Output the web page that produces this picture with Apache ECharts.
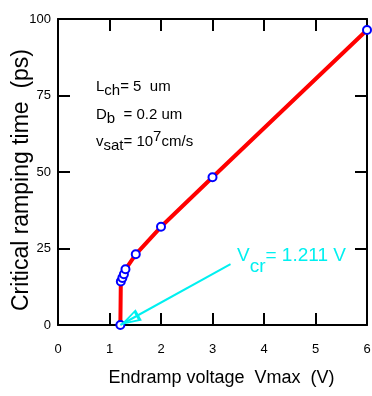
<!DOCTYPE html>
<html>
<head>
<meta charset="utf-8">
<script src="https://cdn.jsdelivr.net/npm/echarts@6/dist/echarts.min.js"></script>
<style>
  html, body { margin: 0; padding: 0; background: #fff; }
  #chart { width: 372px; height: 396px; }
</style>
</head>
<body>
<div id="chart"></div>
<script>
// endramp voltage (V) vs critical ramping time (ps)
const vmax = [1.211, 1.22, 1.25, 1.28, 1.31, 1.51, 2, 3, 6];
const rampTime = [0, 14.2, 15.4, 16.6, 18.2, 23.1, 32.1, 48.3, 96.4];
const xTicks = [0, 1, 2, 3, 4, 5, 6];
const yTicks = [0, 25, 50, 75, 100];
const vcr = 1.211;
const arrowFrom = [3.35, 19.9];

const FONT = '"Liberation Sans", Arial, sans-serif';

const chart = echarts.init(document.getElementById('chart'), null, { renderer: 'canvas' });

const axisLine = { onZero: false, lineStyle: { color: '#000', width: 2 } };
const tick = { inside: true, length: 12, lineStyle: { color: '#000', width: 2 } };

// open arrow head, tip sits in the middle of the symbol box so it lands on the point
const arrowHead = 'path://M0,0 L0,0.01 M0,20 L7,40 L-7,40 Z M0,26 L-4,37 L4,37 Z';

const option = {
  animation: false,
  backgroundColor: '#fff',
  grid: { left: 58, right: 5, top: 19, bottom: 71, containLabel: false, outerBoundsMode: 'none' },
  xAxis: [
    {
      type: 'value',
      min: xTicks[0],
      max: xTicks[xTicks.length - 1],
      interval: 1,
      axisLine,
      axisTick: tick,
      splitLine: { show: false },
      axisLabel: { margin: 18, fontSize: 13, color: '#000', fontFamily: FONT },
      name: 'Endramp voltage  Vmax  (V)',
      nameLocation: 'middle',
      nameGap: 44,
      nameMoveOverlap: false,
      nameTextStyle: { fontSize: 18, color: '#000', fontFamily: FONT, padding: [0, 0, 0, 18] }
    },
    {
      type: 'value',
      position: 'top',
      min: xTicks[0],
      max: xTicks[xTicks.length - 1],
      interval: 1,
      axisLine,
      axisTick: tick,
      splitLine: { show: false },
      axisLabel: { show: false }
    }
  ],
  yAxis: [
    {
      type: 'value',
      min: yTicks[0],
      max: yTicks[yTicks.length - 1],
      interval: 25,
      axisLine,
      axisTick: tick,
      splitLine: { show: false },
      axisLabel: { margin: 7, fontSize: 13, color: '#000', fontFamily: FONT, padding: [0, 0, 9, 0] },
      name: 'Critical ramping time  (ps)',
      nameLocation: 'middle',
      nameGap: 25,
      nameMoveOverlap: false,
      nameTextStyle: { fontSize: 23, color: '#000', fontFamily: FONT, padding: [0, 16, 0, 0] }
    },
    {
      type: 'value',
      position: 'right',
      min: yTicks[0],
      max: yTicks[yTicks.length - 1],
      interval: 25,
      axisLine,
      axisTick: tick,
      splitLine: { show: false },
      axisLabel: { show: false }
    }
  ],
  series: [
    {
      type: 'line',
      data: vmax.map((v, i) => [v, rampTime[i]]),
      lineStyle: { color: '#ff0000', width: 4 },
      symbol: 'emptyCircle',
      symbolSize: 8,
      itemStyle: { color: '#0000ff', borderWidth: 2 },
      z: 3,
      markLine: {
        silent: true,
        symbol: ['none', arrowHead],
        symbolSize: [13, 42],
        lineStyle: { color: '#00f0f0', width: 2, type: 'solid' },
        label: { show: false },
        data: [[{ coord: arrowFrom }, { coord: [vcr, 0] }]]
      }
    }
  ],
  graphic: [
    {
      type: 'text',
      left: 96,
      top: 79,
      style: {
        text: '{m|L}{s|ch}{m|= 5  um}',
        fill: '#000',
        rich: {
          m: { fontSize: 15, fontFamily: FONT },
          s: { fontSize: 15, fontFamily: FONT, padding: [8, 0, 0, 0] }
        }
      }
    },
    {
      type: 'text',
      left: 96,
      top: 107,
      style: {
        text: '{m|D}{s|b}{m|  = 0.2 um}',
        fill: '#000',
        rich: {
          m: { fontSize: 15, fontFamily: FONT },
          s: { fontSize: 15, fontFamily: FONT, padding: [8, 0, 0, 0] }
        }
      }
    },
    {
      type: 'text',
      left: 96,
      top: 129,
      style: {
        text: '{m|v}{s|sat}{m|= 10}{u|7}{m|cm/s}',
        fill: '#000',
        rich: {
          m: { fontSize: 15, fontFamily: FONT },
          s: { fontSize: 15, fontFamily: FONT, padding: [8, 0, 0, 0] },
          u: { fontSize: 15, fontFamily: FONT, padding: [0, 0, 11, 0] }
        }
      }
    },
    {
      type: 'text',
      left: 237,
      top: 246,
      style: {
        text: '{m|V}{s|cr}{m|= 1.211 V}',
        fill: '#00f0f0',
        rich: {
          m: { fontSize: 19, fontFamily: FONT },
          s: { fontSize: 19, fontFamily: FONT, padding: [22, 0, 0, 0] }
        }
      }
    }
  ]
};

chart.setOption(option);
</script>
</body>
</html>
